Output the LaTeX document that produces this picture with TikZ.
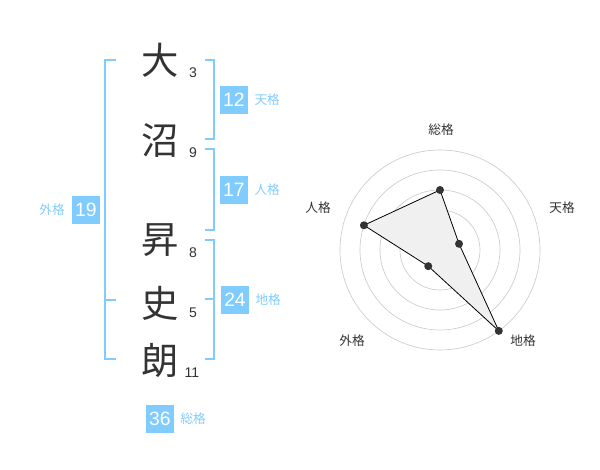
\documentclass[tikz,border=0pt]{standalone}
\usepackage{fontspec}
\setmainfont{Liberation Sans}
\newfontfamily\jp{Noto Sans CJK JP}
\usetikzlibrary{positioning}
\definecolor{sky}{RGB}{128,204,255}
\definecolor{ink}{RGB}{51,51,51}

\begin{document}
\begin{tikzpicture}[
    x=0.75pt, y=0.75pt,
    kanji/.style={font=\jp\fontsize{28}{28}\selectfont, text=ink, inner sep=0},
    strokes/.style={font=\fontsize{10.5}{12}\selectfont, text=ink, inner sep=0},
    numbox/.style={fill=sky, text=white, minimum size=21pt, inner sep=0, font=\fontsize{14.5}{15}\selectfont},
    kaku/.style={font=\jp\fontsize{9.5}{10}\selectfont, text=sky, inner sep=0},
    brk/.style={draw=sky, line width=1.5pt},
    ring/.style={draw=black!20, line width=0.5pt},
    axis/.style={font=\jp\fontsize{9.5}{10}\selectfont, text=ink, inner sep=0},
    dot/.style={circle, fill=ink, inner sep=0, minimum size=6pt}
]
\useasboundingbox (0,0) rectangle (600,470);

% Các chữ của tên
\node[kanji] (K1) at (160,410) {大};
\node[kanji] (K2) at (160,329) {沼};
\node[kanji] (K3) at (160,230) {昇};
\node[kanji] (K4) at (160,167) {史};
\node[kanji] (K5) at (160,109) {朗};

% Số nét
\node[strokes] (N1) at (193,397) {3};
\node[strokes] (N2) at (193,317) {9};
\node[strokes] (N3) at (193,217) {8};
\node[strokes] (N4) at (193,157) {5};
\node[strokes] (N5) at (192,97) {11};

% Các ngoặc
\draw[brk] (116,410) -- (105,410) -- (105,111) -- (116,111);
\draw[brk] (105,170) -- (116,170);
\draw[brk] (205,410) -- (214,410) -- (214,331) -- (205,331);
\draw[brk] (205,321) -- (214,321) -- (214,240) -- (205,240);
\draw[brk] (205,230) -- (214,230) -- (214,111) -- (205,111);
\draw[brk] (205,171) -- (214,171);

% Các ô số
\node[numbox] (TEN) at (234,370) {12};
\node[numbox] (JIN) at (234,280) {17};
\node[numbox] (GAI) at (86,260) {19};
\node[numbox] (CHI) at (235,170) {24};
\node[numbox] (SOU) at (160,51) {36};

\node[kaku, right=4.5pt of TEN] (tTEN) {天格};
\node[kaku, right=4.5pt of JIN] (tJIN) {人格};
\node[kaku, left=5pt of GAI] (tGAI) {外格};
\node[kaku, right=4.5pt of CHI] (tCHI) {地格};
\node[kaku, right=4.5pt of SOU] (tSOU) {総格};

% Biểu đồ radar
\begin{scope}[shift={(440,220)}]
\foreach \r in {20,40,60,80,100}
    \draw[ring] (0,0) circle[radius=\r*0.75pt];
\fill[black!20] (0,0) circle[radius=3.5pt];

\coordinate (P1) at (90:60);
\coordinate (P2) at (18:20);
\coordinate (P3) at (-54:100);
\coordinate (P4) at (-126:20);
\coordinate (P5) at (162:80);

\filldraw[fill=black!6, draw=black, line width=0.6pt]
    (P1) -- (P2) -- (P3) -- (P4) -- (P5) -- cycle;

\node[dot] (D1) at (P1) {};
\node[dot] (D2) at (P2) {};
\node[dot] (D3) at (P3) {};
\node[dot] (D4) at (P4) {};
\node[dot] (D5) at (P5) {};

\node[axis] (A1) at (1,120) {総格};
\node[axis] (A2) at (122,42) {天格};
\node[axis] (A3) at (83,-91) {地格};
\node[axis] (A4) at (-88,-91) {外格};
\node[axis] (A5) at (-122,42) {人格};
\end{scope}
\end{tikzpicture}
\end{document}
